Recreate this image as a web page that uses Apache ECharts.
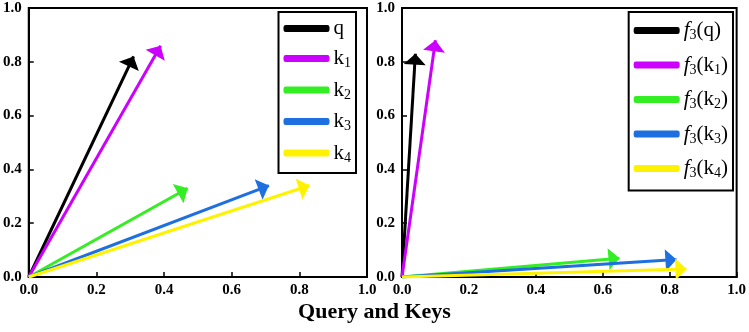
<!DOCTYPE html>
<html>
<head>
<meta charset="utf-8">
<script src="https://cdn.jsdelivr.net/npm/echarts@6/dist/echarts.min.js"></script>
<style>
  html, body { margin: 0; padding: 0; background: #fff; }
  #main { width: 749px; height: 332px; }
</style>
</head>
<body>
<div id="main"></div>
<script>
// vector end points
const leftNames = ['q', 'k1', 'k2', 'k3', 'k4'];
const leftX = [0.31, 0.39, 0.47, 0.71, 0.83];
const leftY = [0.82, 0.86, 0.33, 0.34, 0.34];

const rightNames = ['f3(q)', 'f3(k1)', 'f3(k2)', 'f3(k3)', 'f3(k4)'];
const rightX = [0.04, 0.10, 0.65, 0.82, 0.85];
const rightY = [0.83, 0.88, 0.07, 0.065, 0.03];

const colors = ['#000000', '#CC00FF', '#33EE22', '#1E6FE0', '#FFF200'];

const serif = 'Liberation Serif';

// filled arrow head whose tip sits at the symbol centre (upper half is an empty spacer)
const arrowHead = 'path://M0,-11L0.01,-11L0,-10.99Z M0,0L4.5,11L-4.5,11Z';

function makeAxis(type, idx) {
    return {
        type: 'value',
        gridIndex: idx,
        min: 0,
        max: 1,
        interval: 0.2,
        axisLine: { show: true, onZero: false, lineStyle: { color: '#000', width: 2 } },
        axisTick: { show: true, inside: true, length: 5, lineStyle: { color: '#000', width: 1.5 } },
        splitLine: { show: false },
        axisLabel: {
            color: '#000',
            fontFamily: serif,
            fontWeight: 'bold',
            fontSize: 15,
            margin: type === 'x' ? 6 : 7,
            formatter: v => v.toFixed(1)
        }
    };
}

function makeSeries(names, xs, ys, idx) {
    return names.map((n, i) => ({
        name: n,
        type: 'lines',
        coordinateSystem: 'cartesian2d',
        xAxisIndex: idx,
        yAxisIndex: idx,
        symbol: ['none', arrowHead],
        symbolSize: [9, 22],
        itemStyle: { color: colors[i] },
        lineStyle: { color: colors[i], width: 3, opacity: 1 },
        data: [{ coords: [[0, 0], [xs[i], ys[i]]] }]
    }));
}

const rich = {
    b: { fontFamily: serif, fontSize: 21, color: '#000' },
    i: { fontFamily: serif, fontSize: 21, fontStyle: 'italic', color: '#000' },
    s: { fontFamily: serif, fontSize: 14, color: '#000', verticalAlign: 'bottom', padding: [10, 0, 0, 0] }
};

function legendText(name) {
    // "k1" -> k with subscript 1, "f3(k1)" -> italic f, subscript 3 ...
    let out = '';
    let m = name.match(/^f3\((.*)\)$/);
    let inner = name;
    if (m) {
        inner = m[1];
        out += '{i|f}{s|3}{b|(}';
    }
    let k = inner.match(/^([a-z])(\d)$/);
    if (k) out += '{b|' + k[1] + '}{s|' + k[2] + '}';
    else out += '{b|' + inner + '}';
    if (m) out += '{b|)}';
    return out;
}

function makeLegend(names, right, gap, pad) {
    return {
        data: names.map((n, i) => ({ name: n, icon: 'roundRect', itemStyle: { color: colors[i] } })),
        orient: 'vertical',
        right: right,
        top: 12,
        itemWidth: 44,
        itemHeight: 5,
        itemGap: gap,
        borderColor: '#000',
        borderWidth: 2,
        padding: pad,
        formatter: legendText,
        textStyle: { rich: rich }
    };
}

const myChart = echarts.init(document.getElementById('main'));
myChart.setOption({
    animation: false,
    grid: [
        { left: 28, top: 8, width: 339, height: 269, show: true, borderColor: '#000', borderWidth: 2 },
        { left: 402, top: 8, width: 336, height: 269, show: true, borderColor: '#000', borderWidth: 2 }
    ],
    xAxis: [makeAxis('x', 0), makeAxis('x', 1)],
    yAxis: [makeAxis('y', 0), makeAxis('y', 1)],
    legend: [
        makeLegend(leftNames, 393, 9, [6, 5, 8, 5]),
        makeLegend(rightNames, 16, 12, [8, 5, 10, 5])
    ],
    graphic: [{
        type: 'text',
        left: 'center',
        top: 301,
        style: {
            text: 'Query and Keys',
            fontFamily: serif,
            fontWeight: 'bold',
            fontSize: 22,
            fill: '#000'
        }
    }],
    series: makeSeries(leftNames, leftX, leftY, 0).concat(makeSeries(rightNames, rightX, rightY, 1))
});
</script>
</body>
</html>
